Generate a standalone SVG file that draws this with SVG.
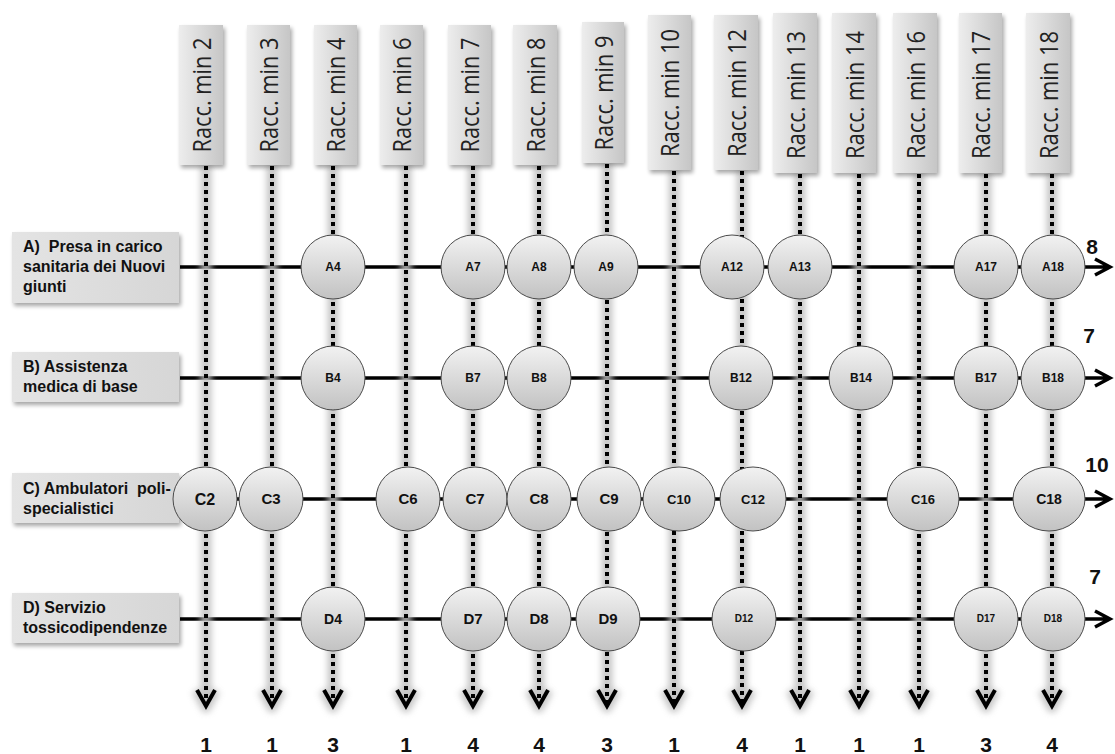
<svg xmlns="http://www.w3.org/2000/svg" width="1115" height="754" viewBox="0 0 1115 754">
<defs>
<linearGradient id="hdrGrad" x1="0" y1="0" x2="1" y2="0">
<stop offset="0" stop-color="#ededed"/>
<stop offset="1" stop-color="#c6c6c6"/>
</linearGradient>
<linearGradient id="lblGrad" x1="0" y1="0" x2="1" y2="0">
<stop offset="0" stop-color="#e4e4e4"/>
<stop offset="1" stop-color="#d6d6d6"/>
</linearGradient>
<linearGradient id="circGrad" x1="0" y1="0" x2="0" y2="1">
<stop offset="0" stop-color="#f2f2f2"/>
<stop offset="1" stop-color="#c2c2c2"/>
</linearGradient>
<filter id="shadow" x="-20%" y="-20%" width="150%" height="150%">
<feGaussianBlur in="SourceAlpha" stdDeviation="2"/>
<feOffset dx="2" dy="3" result="b"/>
<feComponentTransfer><feFuncA type="linear" slope="0.35"/></feComponentTransfer>
<feMerge><feMergeNode/><feMergeNode in="SourceGraphic"/></feMerge>
</filter>
<filter id="glow" x="-50%" y="-10%" width="200%" height="120%">
<feGaussianBlur stdDeviation="3"/>
</filter>
<style>
.hdr{fill:url(#hdrGrad);filter:url(#shadow)}
.hdrt{font-family:"Open Sans","Liberation Sans",sans-serif;font-size:25px;fill:#222;text-anchor:middle}
.lbl{fill:url(#lblGrad);filter:url(#shadow)}
.lblt{font-family:"Liberation Sans",Arial,sans-serif;font-weight:bold;font-size:16px;fill:#111}
.hline{stroke:#000;stroke-width:3.5;fill:none}
.glowl{stroke:#bdbdbd;stroke-width:11;fill:none;stroke-linejoin:round}
.dots{stroke:#000;stroke-width:4;stroke-dasharray:4 4;fill:none}
.chev{stroke:#000;stroke-width:4;fill:none;stroke-linejoin:miter}
.circ{fill:url(#circGrad);stroke:#4a4a4a;stroke-width:1}
.ct{font-family:"Liberation Sans",Arial,sans-serif;font-weight:bold;fill:#111;text-anchor:middle}
.num{font-family:"Liberation Sans",Arial,sans-serif;font-weight:bold;font-size:21px;fill:#111;text-anchor:middle}
</style>
</defs>
<rect width="1115" height="754" fill="#fff"/>

<g id="connectors">
<g id="row-lines">
<path class="hline" d="M180 267H1108M1095 259L1110 267L1095 275"/>
<path class="hline" d="M180 378H1108M1095 370L1110 378L1095 386"/>
<path class="hline" d="M180 499H1108M1095 491L1110 499L1095 507"/>
<path class="hline" d="M180 619H1108M1095 611L1110 619L1095 627"/>
</g>
<g id="col-glow" filter="url(#glow)" opacity="0.85">
<path class="glowl" d="M206 165V704M197 690L206 707L215 690"/>
<path class="glowl" d="M272 165V704M263 690L272 707L281 690"/>
<path class="glowl" d="M333 165V704M324 690L333 707L342 690"/>
<path class="glowl" d="M406 165V704M397 690L406 707L415 690"/>
<path class="glowl" d="M473 165V704M464 690L473 707L482 690"/>
<path class="glowl" d="M539 165V704M530 690L539 707L548 690"/>
<path class="glowl" d="M607 163V704M598 690L607 707L616 690"/>
<path class="glowl" d="M674 170V704M665 690L674 707L683 690"/>
<path class="glowl" d="M742 170V704M733 690L742 707L751 690"/>
<path class="glowl" d="M800 173V704M791 690L800 707L809 690"/>
<path class="glowl" d="M859 173V704M850 690L859 707L868 690"/>
<path class="glowl" d="M919 173V704M910 690L919 707L928 690"/>
<path class="glowl" d="M986 173V704M977 690L986 707L995 690"/>
<path class="glowl" d="M1052 173V704M1043 690L1052 707L1061 690"/>
</g>
<g id="col-lines">
<path class="dots" d="M206 166V702"/><path class="chev" d="M197 690L206 706L215 690"/>
<path class="dots" d="M272 166V702"/><path class="chev" d="M263 690L272 706L281 690"/>
<path class="dots" d="M333 166V702"/><path class="chev" d="M324 690L333 706L342 690"/>
<path class="dots" d="M406 166V702"/><path class="chev" d="M397 690L406 706L415 690"/>
<path class="dots" d="M473 166V702"/><path class="chev" d="M464 690L473 706L482 690"/>
<path class="dots" d="M539 166V702"/><path class="chev" d="M530 690L539 706L548 690"/>
<path class="dots" d="M607 164V702"/><path class="chev" d="M598 690L607 706L616 690"/>
<path class="dots" d="M674 171V702"/><path class="chev" d="M665 690L674 706L683 690"/>
<path class="dots" d="M742 171V702"/><path class="chev" d="M733 690L742 706L751 690"/>
<path class="dots" d="M800 174V702"/><path class="chev" d="M791 690L800 706L809 690"/>
<path class="dots" d="M859 174V702"/><path class="chev" d="M850 690L859 706L868 690"/>
<path class="dots" d="M919 174V702"/><path class="chev" d="M910 690L919 706L928 690"/>
<path class="dots" d="M986 174V702"/><path class="chev" d="M977 690L986 706L995 690"/>
<path class="dots" d="M1052 174V702"/><path class="chev" d="M1043 690L1052 706L1061 690"/>
</g>
</g>

<g id="row-labels">
<g id="rowA"><rect class="lbl" x="12" y="232" width="167" height="71"/>
<text class="lblt" x="23" y="252" xml:space="preserve">A)  Presa in carico</text>
<text class="lblt" x="23" y="272">sanitaria dei Nuovi</text>
<text class="lblt" x="23" y="292">giunti</text></g>
<g id="rowB"><rect class="lbl" x="12" y="352" width="167" height="50"/>
<text class="lblt" x="23" y="372">B) Assistenza</text>
<text class="lblt" x="23" y="392">medica di base</text></g>
<g id="rowC"><rect class="lbl" x="12" y="473" width="167" height="50"/>
<text class="lblt" x="23" y="494" xml:space="preserve">C) Ambulatori  poli-</text>
<text class="lblt" x="23" y="514">specialistici</text></g>
<g id="rowD"><rect class="lbl" x="12" y="593" width="167" height="50"/>
<text class="lblt" x="23" y="613">D) Servizio</text>
<text class="lblt" x="23" y="633">tossicodipendenze</text></g>
</g>

<g id="nodes">
<g id="A4"><circle class="circ" cx="333" cy="267" r="32"/><text class="ct" x="333" y="271" font-size="12">A4</text></g>
<g id="A7"><circle class="circ" cx="473" cy="267" r="32"/><text class="ct" x="473" y="271" font-size="12">A7</text></g>
<g id="A8"><circle class="circ" cx="539" cy="267" r="32"/><text class="ct" x="539" y="271" font-size="12">A8</text></g>
<g id="A9"><circle class="circ" cx="606" cy="267" r="32"/><text class="ct" x="606" y="271" font-size="12">A9</text></g>
<g id="A12"><circle class="circ" cx="732" cy="267" r="32"/><text class="ct" x="732" y="271" font-size="12">A12</text></g>
<g id="A13"><circle class="circ" cx="800" cy="267" r="32"/><text class="ct" x="800" y="271" font-size="12">A13</text></g>
<g id="A17"><circle class="circ" cx="986" cy="267" r="32"/><text class="ct" x="986" y="271" font-size="12">A17</text></g>
<g id="A18"><circle class="circ" cx="1053" cy="267" r="32"/><text class="ct" x="1053" y="271" font-size="12">A18</text></g>

<g id="B4"><circle class="circ" cx="333" cy="378" r="32"/><text class="ct" x="333" y="382" font-size="12">B4</text></g>
<g id="B7"><circle class="circ" cx="473" cy="378" r="32"/><text class="ct" x="473" y="382" font-size="12">B7</text></g>
<g id="B8"><circle class="circ" cx="539" cy="378" r="32"/><text class="ct" x="539" y="382" font-size="12">B8</text></g>
<g id="B12"><circle class="circ" cx="741" cy="378" r="32"/><text class="ct" x="741" y="382" font-size="12">B12</text></g>
<g id="B14"><circle class="circ" cx="861" cy="378" r="32"/><text class="ct" x="861" y="382" font-size="12">B14</text></g>
<g id="B17"><circle class="circ" cx="986" cy="378" r="32"/><text class="ct" x="986" y="382" font-size="12">B17</text></g>
<g id="B18"><circle class="circ" cx="1053" cy="378" r="32"/><text class="ct" x="1053" y="382" font-size="12">B18</text></g>

<g id="C2"><circle class="circ" cx="205" cy="499" r="32"/><text class="ct" x="205" y="505" font-size="16">C2</text></g>
<g id="C3"><circle class="circ" cx="271" cy="499" r="32"/><text class="ct" x="271" y="504" font-size="15">C3</text></g>
<g id="C6"><circle class="circ" cx="408" cy="499" r="32"/><text class="ct" x="408" y="504" font-size="15">C6</text></g>
<g id="C7"><circle class="circ" cx="475" cy="499" r="32"/><text class="ct" x="475" y="504" font-size="15">C7</text></g>
<g id="C8"><circle class="circ" cx="539" cy="499" r="32"/><text class="ct" x="539" y="504" font-size="15">C8</text></g>
<g id="C9"><circle class="circ" cx="609" cy="499" r="32"/><text class="ct" x="609" y="504" font-size="15">C9</text></g>
<g id="C10"><ellipse class="circ" cx="679" cy="499" rx="36" ry="32"/><text class="ct" x="679" y="504" font-size="13">C10</text></g>
<g id="C12"><ellipse class="circ" cx="753" cy="499" rx="33" ry="32"/><text class="ct" x="753" y="504" font-size="13">C12</text></g>
<g id="C16"><ellipse class="circ" cx="923" cy="499" rx="36" ry="32"/><text class="ct" x="923" y="504" font-size="13">C16</text></g>
<g id="C18"><ellipse class="circ" cx="1049" cy="499" rx="36" ry="32"/><text class="ct" x="1049" y="504" font-size="14">C18</text></g>

<g id="D4"><circle class="circ" cx="333" cy="619" r="32"/><text class="ct" x="333" y="624" font-size="14">D4</text></g>
<g id="D7"><circle class="circ" cx="473" cy="619" r="32"/><text class="ct" x="473" y="624" font-size="15">D7</text></g>
<g id="D8"><circle class="circ" cx="539" cy="619" r="32"/><text class="ct" x="539" y="624" font-size="15">D8</text></g>
<g id="D9"><circle class="circ" cx="608" cy="619" r="32"/><text class="ct" x="608" y="624" font-size="15">D9</text></g>
<g id="D12"><circle class="circ" cx="744" cy="619" r="32"/><text class="ct" x="744" y="622" font-size="10">D12</text></g>
<g id="D17"><circle class="circ" cx="986" cy="619" r="32"/><text class="ct" x="986" y="622" font-size="10">D17</text></g>
<g id="D18"><circle class="circ" cx="1053" cy="619" r="32"/><text class="ct" x="1053" y="622" font-size="10">D18</text></g>
</g>

<g id="headers">
<g id="h2"><rect class="hdr" x="179" y="25" width="44" height="140"/><text class="hdrt" transform="translate(201 95) rotate(-90)" y="10" textLength="115" lengthAdjust="spacingAndGlyphs">Racc. min 2</text></g>
<g id="h3"><rect class="hdr" x="247" y="25" width="43" height="140"/><text class="hdrt" transform="translate(268 95) rotate(-90)" y="10" textLength="115" lengthAdjust="spacingAndGlyphs">Racc. min 3</text></g>
<g id="h4"><rect class="hdr" x="314" y="25" width="43" height="140"/><text class="hdrt" transform="translate(335 95) rotate(-90)" y="10" textLength="115" lengthAdjust="spacingAndGlyphs">Racc. min 4</text></g>
<g id="h6"><rect class="hdr" x="380" y="25" width="43" height="140"/><text class="hdrt" transform="translate(401 95) rotate(-90)" y="10" textLength="115" lengthAdjust="spacingAndGlyphs">Racc. min 6</text></g>
<g id="h7"><rect class="hdr" x="448" y="25" width="43" height="140"/><text class="hdrt" transform="translate(469 95) rotate(-90)" y="10" textLength="115" lengthAdjust="spacingAndGlyphs">Racc. min 7</text></g>
<g id="h8"><rect class="hdr" x="513" y="25" width="44" height="140"/><text class="hdrt" transform="translate(535 95) rotate(-90)" y="10" textLength="115" lengthAdjust="spacingAndGlyphs">Racc. min 8</text></g>
<g id="h9"><rect class="hdr" x="582" y="22" width="42" height="141"/><text class="hdrt" transform="translate(603 93) rotate(-90)" y="10" textLength="115" lengthAdjust="spacingAndGlyphs">Racc. min 9</text></g>
<g id="h10"><rect class="hdr" x="648" y="15" width="43" height="155"/><text class="hdrt" transform="translate(669 93) rotate(-90)" y="10" textLength="128" lengthAdjust="spacingAndGlyphs">Racc. min 10</text></g>
<g id="h12"><rect class="hdr" x="714" y="15" width="44" height="155"/><text class="hdrt" transform="translate(736 93) rotate(-90)" y="10" textLength="128" lengthAdjust="spacingAndGlyphs">Racc. min 12</text></g>
<g id="h13"><rect class="hdr" x="773" y="13" width="44" height="160"/><text class="hdrt" transform="translate(795 95) rotate(-90)" y="10" textLength="128" lengthAdjust="spacingAndGlyphs">Racc. min 13</text></g>
<g id="h14"><rect class="hdr" x="832" y="13" width="44" height="160"/><text class="hdrt" transform="translate(854 95) rotate(-90)" y="10" textLength="128" lengthAdjust="spacingAndGlyphs">Racc. min 14</text></g>
<g id="h16"><rect class="hdr" x="893" y="13" width="44" height="160"/><text class="hdrt" transform="translate(915 95) rotate(-90)" y="10" textLength="128" lengthAdjust="spacingAndGlyphs">Racc. min 16</text></g>
<g id="h17"><rect class="hdr" x="959" y="13" width="43" height="160"/><text class="hdrt" transform="translate(980 95) rotate(-90)" y="10" textLength="128" lengthAdjust="spacingAndGlyphs">Racc. min 17</text></g>
<g id="h18"><rect class="hdr" x="1026" y="13" width="44" height="160"/><text class="hdrt" transform="translate(1048 95) rotate(-90)" y="10" textLength="128" lengthAdjust="spacingAndGlyphs">Racc. min 18</text></g>
</g>

<g id="row-totals">
<text class="num" x="1092" y="254">8</text>
<text class="num" x="1089" y="343">7</text>
<text class="num" x="1097" y="472">10</text>
<text class="num" x="1095" y="584">7</text>
</g>

<g id="col-totals">
<text class="num" x="206" y="752">1</text>
<text class="num" x="272" y="752">1</text>
<text class="num" x="333" y="752">3</text>
<text class="num" x="406" y="752">1</text>
<text class="num" x="473" y="752">4</text>
<text class="num" x="539" y="752">4</text>
<text class="num" x="607" y="752">3</text>
<text class="num" x="674" y="752">1</text>
<text class="num" x="742" y="752">4</text>
<text class="num" x="800" y="752">1</text>
<text class="num" x="859" y="752">1</text>
<text class="num" x="919" y="752">1</text>
<text class="num" x="986" y="752">3</text>
<text class="num" x="1052" y="752">4</text>
</g>
</svg>
